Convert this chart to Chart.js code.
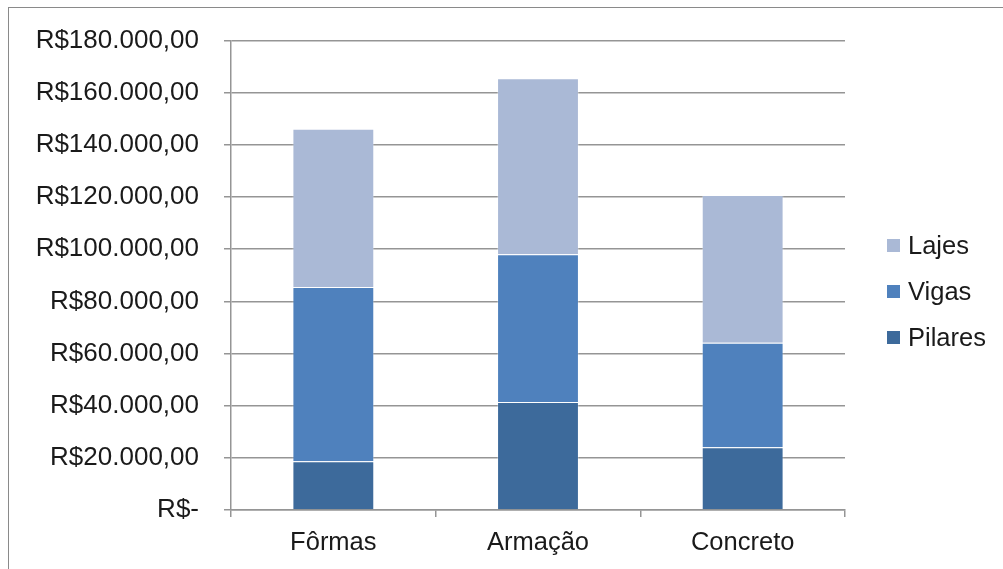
<!DOCTYPE html>
<html lang="pt-BR">
<head>
<meta charset="utf-8">
<title>Custos por serviço</title>
<script src="https://cdn.jsdelivr.net/npm/chart.js@4.4.1/dist/chart.umd.min.js"></script>
<style>
  html, body { margin: 0; padding: 0; background: #ffffff; }
  #wrap { position: relative; width: 1003px; height: 569px; overflow: hidden; }
  #chart { position: absolute; left: 0; top: 0; }
  #legend {
    position: absolute; left: 887px; top: 222px;
    font-family: "Liberation Sans", Arial, sans-serif; font-size: 25.5px; color: #1a1a1a;
  }
  .item { display: flex; align-items: center; height: 46px; }
  .swatch { width: 13px; height: 13px; margin-right: 8px; }
</style>
</head>
<body>
<div id="wrap">
  <canvas id="chart" width="1003" height="569"></canvas>
  <div id="legend"></div>
</div>
<script>
// Categories and series (R$)
const categories = ['Fôrmas', 'Armação', 'Concreto'];
const pilares = [18700, 41400, 24100];
const vigas   = [66800, 56700, 40000];
const lajes   = [60700, 67500, 56700];

// Value axis ticks
const yTickValues = [0, 20000, 40000, 60000, 80000, 100000, 120000, 140000, 160000, 180000];
const yTickLabels = ['R$-', 'R$20.000,00', 'R$40.000,00', 'R$60.000,00', 'R$80.000,00',
                     'R$100.000,00', 'R$120.000,00', 'R$140.000,00', 'R$160.000,00', 'R$180.000,00'];

const FONT = '"Liberation Sans", Arial, sans-serif';
const TEXT = '#1a1a1a';
const GRID = '#959595';

// Thin grey frame around the whole chart
const framePlugin = {
  id: 'frame',
  beforeDraw(chart) {
    const ctx = chart.ctx;
    ctx.save();
    ctx.strokeStyle = '#8a8a8a';
    ctx.lineWidth = 1;
    ctx.strokeRect(8.5, 7.5, 1200, 800);
    ctx.restore();
  }
};

// Legend built as HTML from the datasets (top to bottom: last stacked series first)
const htmlLegend = {
  id: 'htmlLegend',
  afterUpdate(chart) {
    const box = document.getElementById('legend');
    box.innerHTML = '';
    chart.data.datasets.slice().reverse().forEach(ds => {
      const item = document.createElement('div');
      item.className = 'item';
      const sw = document.createElement('span');
      sw.className = 'swatch';
      sw.style.background = ds.backgroundColor;
      const tx = document.createElement('span');
      tx.textContent = ds.label;
      item.appendChild(sw);
      item.appendChild(tx);
      box.appendChild(item);
    });
  }
};

new Chart(document.getElementById('chart'), {
  type: 'bar',
  data: {
    labels: categories,
    datasets: [
      { label: 'Pilares', data: pilares, backgroundColor: '#3d6a9b' },
      { label: 'Vigas',   data: vigas,   backgroundColor: '#4f81bd' },
      { label: 'Lajes',   data: lajes,   backgroundColor: '#aab9d6' }
    ]
  },
  options: {
    responsive: false,
    animation: false,
    layout: { padding: { left: 0, top: 36, right: 158, bottom: 14 } },
    datasets: {
      bar: {
        categoryPercentage: 1.0,
        barPercentage: 0.4,
        borderWidth: 1,
        borderColor: 'rgba(255,255,255,0.3)'
      }
    },
    plugins: {
      legend: { display: false },
      tooltip: { enabled: false }
    },
    scales: {
      x: {
        stacked: true,
        offset: true,
        afterFit(scale) { scale.height = 45; },
        grid: {
          display: true,
          offset: true,
          drawOnChartArea: false,
          drawTicks: true,
          tickLength: 7,
          color: GRID,
          lineWidth: 1.5
        },
        border: { display: true, color: GRID, width: 1.5 },
        ticks: {
          padding: 11,
          color: TEXT,
          font: { family: FONT, size: 25.5 },
          maxRotation: 0
        }
      },
      y: {
        stacked: true,
        min: 0,
        max: 180000,
        afterFit(scale) { scale.width = 231; },
        afterBuildTicks(scale) { scale.ticks = yTickValues.map(v => ({ value: v })); },
        grid: {
          color: GRID,
          lineWidth: 1.5,
          drawTicks: true,
          tickLength: 7
        },
        border: { display: true, color: GRID, width: 1.5 },
        ticks: {
          padding: 25,
          color: TEXT,
          autoSkip: false,
          font: { family: FONT, size: 26 },
          callback(value) {
            const i = yTickValues.indexOf(value);
            return i >= 0 ? yTickLabels[i] : '';
          }
        }
      }
    }
  },
  plugins: [framePlugin, htmlLegend]
});
</script>
</body>
</html>
